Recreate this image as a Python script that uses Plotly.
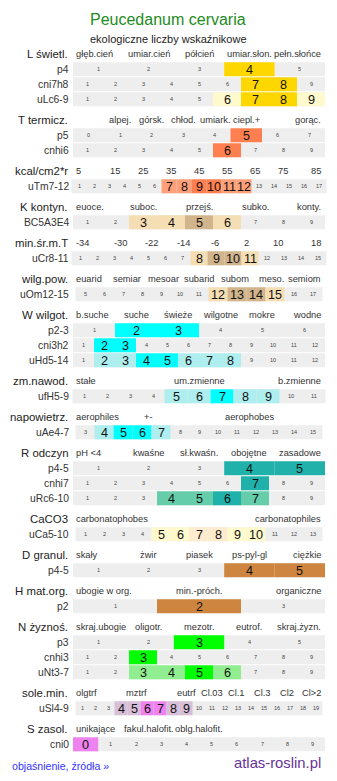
import plotly.graph_objects as go

TITLE = "Peucedanum cervaria"
SUBTITLE = "ekologiczne liczby wskaźnikowe"
FOOT_LEFT = "objaśnienie, źródła »"
FOOT_RIGHT = "atlas-roslin.pl"

GROUP_TITLES = ["L świetl.", "T termicz.", "kcal/cm2*r", "K kontyn.", "min.śr.m.T",
                "wilg.pow.", "W wilgot.", "zm.nawod.", "napowietrz.", "R odczyn",
                "CaCO3", "D granul.", "H mat.org.", "N żyznoś.", "sole.min.", "S zasol."]
GROUP_LABELS = [
    ["głęb.cień", "umiar.cień", "półcień", "umiar.słon.", "pełn.słońce"],
    ["alpej.", "górsk.", "chłod.", "umiark.", "ciepl.+", "gorąc."],
    ["5", "15", "25", "35", "45", "55", "65", "75", "85"],
    ["euoce.", "suboc.", "przejś.", "subko.", "konty."],
    ["-34", "-30", "-22", "-14", "-6", "2", "10", "18"],
    ["euarid", "semiar", "mesoar", "subarid", "subom", "meso.", "semiom"],
    ["b.suche", "suche", "świeże", "wilgotne", "mokre", "wodne"],
    ["stałe", "um.zmienne", "b.zmienne"],
    ["aerophiles", "+-", "aerophobes"],
    ["pH <4", "kwaśne", "sł.kwaśn.", "obojętne", "zasadowe"],
    ["carbonatophobes", "carbonatophiles"],
    ["skały", "żwir", "piasek", "ps-pyl-gl", "ciężkie"],
    ["ubogie w org.", "min.-próch.", "organiczne"],
    ["skraj.ubogie", "oligotr.", "mezotr.", "eutrof.", "skraj.żyzn."],
    ["olgtrf", "mztrf", "eutrf", "Cl.03", "Cl.1", "Cl.3", "Cl2", "Cl>2"],
    ["unikające", "fakul.halofit.", "oblg.halofit."],
]
# column (1-based) of each header label within the group's header scale
GROUP_LABEL_COLS = [
    [1, 2, 3, 4, 5], [2, 3, 4, 5, 6, 8], [1, 2, 3, 4, 5, 6, 7, 8, 9], [1, 3, 5, 7, 9],
    [1, 2, 3, 4, 5, 6, 7, 8], [1, 2, 3, 4, 5, 6, 7], [1, 2, 3, 4, 5, 6], [1, 2, 3],
    [1, 2, 4], [1, 2, 3, 4, 5], [1, 2], [1, 2, 3, 4, 5], [1, 2, 3], [1, 2, 3, 4, 5],
    [1, 3, 5, 6, 7, 8, 9, 10], [1, 2, 3],
]
GROUP_NCOLS = [5, 8, 9, 9, 8, 7, 6, 3, 5, 5, 2, 5, 3, 5, 10, 5]

ROW_GROUP = [0, 0, 0, 1, 1, 2, 3, 4, 5, 6, 6, 6, 7, 8, 9, 9, 9, 10, 11, 12, 13, 13, 13, 14, 15]
ROW_NAMES = ["p4", "cni7h8", "uLc6-9", "p5", "cnhi6", "uTm7-12", "BC5A3E4", "uCr8-11",
             "uOm12-15", "p2-3", "cni3h2", "uHd5-14", "ufH5-9", "uAe4-7", "p4-5", "cnhi7",
             "uRc6-10", "uCa5-10", "p4-5", "p2", "p3", "cnhi3", "uNt3-7", "uSl4-9", "cni0"]
ROW_FIRST = [1, 1, 1, 0, 1, 1, 1, 1, 5, 1, 1, 1, 1, 3, 1, 1, 1, 1, 1, 1, 1, 1, 1, 1, 0]
ROW_LAST = [5, 9, 9, 7, 9, 17, 9, 15, 17, 6, 12, 12, 11, 15, 5, 9, 9, 13, 5, 3, 5, 9, 9, 19, 9]
ROW_STRONG = [[4], [7, 8], [7, 8], [5], [6], [9, 10], [5], [9, 10], [13, 14], [2, 3], [2, 3],
              [4, 5], [7], [5, 6], [4, 5], [7], [6], [7, 8], [4, 5], [2], [3], [3], [5],
              [6, 7], [0]]
ROW_LIGHT = [[], [], [6, 9], [], [], [7, 8, 11, 12], [3, 4, 6], [8, 11], [12, 15], [], [],
             [2, 3, 6, 7, 8], [5, 6, 8, 9], [4, 7], [], [], [4, 5, 7], [5, 6, 9, 10], [], [],
             [], [], [3, 4, 6], [4, 5, 8, 9], []]

# ---- styles ----
GROUP_COLORS = [("#FFD700", "#FFFACD"), ("#FF7F50", "#FFA07A"), ("#FF7F50", "#FFA07A"),
                ("#D2B48C", "#F5DEB3"), ("#D2B48C", "#F5DEB3"), ("#D2B48C", "#F5DEB3"),
                ("#00FFFF", "#AFEEEE"), ("#00FFFF", "#AFEEEE"), ("#00FFFF", "#AFEEEE"),
                ("#20B2AA", "#66CDAA"), ("#FFEBCD", "#FFFACD"), ("#CD853F", "#DEB887"),
                ("#CD853F", "#DEB887"), ("#00FF00", "#90EE90"), ("#EE82EE", "#D8BFD8"),
                ("#EE82EE", "#D8BFD8")]
FONT = "Liberation Sans, Arial, sans-serif"
W, H = 337, 781
GRID_C = 199.0
GRID_W = 252.0
ROW_H = 14.0
PITCH = 15.0
GROUP_GAP = 21.0
TOP = 54.3

fig = go.Figure()
shapes = []
ann = []


def text(x, y, s, size, color="#222", xanchor="center"):
    ann.append(dict(x=x, y=y, xref="x", yref="y", text=s, showarrow=False,
                    xanchor=xanchor, yanchor="middle",
                    font=dict(family=FONT, size=size, color=color)))


def row_geom(n):
    w = round(GRID_W / n) if n >= 11 else GRID_W / n
    return GRID_C - n * w / 2.0, w


# title
text(W / 2 - 0.5, 19.5, TITLE, 16, "#228B22")
text(W / 2 - 0.5, 38.5, SUBTITLE, 11, "#222")

y = TOP - GROUP_GAP
prev_group = None
for r, g in enumerate(ROW_GROUP):
    if g != prev_group:
        y += GROUP_GAP
        # group header
        text(69.5, y, GROUP_TITLES[g], 11.4, "#222", "right")
        nc = GROUP_NCOLS[g]
        hx0 = GRID_C - GRID_W / 2
        cw = GRID_W / nc
        for lab, c in zip(GROUP_LABELS[g], GROUP_LABEL_COLS[g]):
            if c == 1:
                text(hx0 + 0.8, y, lab, 9.3, "#333", "left")
            elif c == nc:
                text(hx0 + GRID_W - 2, y, lab, 9.3, "#333", "right")
            else:
                text(hx0 + (c - 0.5) * cw, y, lab, 9.3, "#333", "center")
        prev_group = g
    y += PITCH
    text(70.5, y, ROW_NAMES[r], 10.3, "#333", "right")
    vals = list(range(ROW_FIRST[r], ROW_LAST[r] + 1))
    n = len(vals)
    x0, w = row_geom(n)
    shapes.append(dict(type="rect", xref="x", yref="y", x0=x0, x1=x0 + n * w,
                       y0=y - ROW_H / 2, y1=y + ROW_H / 2, fillcolor="#EEEEEE",
                       line=dict(width=0), layer="below"))
    strong_c, light_c = GROUP_COLORS[g]
    for i, v in enumerate(vals):
        cx0 = x0 + i * w
        col = None
        if v in ROW_STRONG[r]:
            col = strong_c
        elif v in ROW_LIGHT[r]:
            col = light_c
        if col:
            shapes.append(dict(type="rect", xref="x", yref="y", x0=cx0, x1=cx0 + w,
                               y0=y - ROW_H / 2, y1=y + ROW_H / 2, fillcolor=col,
                               line=dict(width=0), layer="below"))
            text(cx0 + w / 2, y + 0.3, str(v), 12.6, "#111")
        else:
            text(cx0 + w / 2, y, str(v), 5.5, "#444")

text(9.5, 766, FOOT_LEFT, 10.6, "#3333FF", "left")
text(322.5, 762.5, FOOT_RIGHT, 14.8, "#663399", "right")

fig.add_trace(go.Scatter(x=[0], y=[0], mode="markers", marker=dict(opacity=0),
                         hoverinfo="skip", showlegend=False))
fig.update_layout(width=W, height=H, margin=dict(l=0, r=0, t=0, b=0),
                  paper_bgcolor="white", plot_bgcolor="white", shapes=shapes,
                  annotations=ann, showlegend=False,
                  xaxis=dict(range=[0, W], visible=False, fixedrange=True),
                  yaxis=dict(range=[H, 0], visible=False, fixedrange=True))
fig.write_html("out.html", config={"displayModeBar": False, "staticPlot": True})
